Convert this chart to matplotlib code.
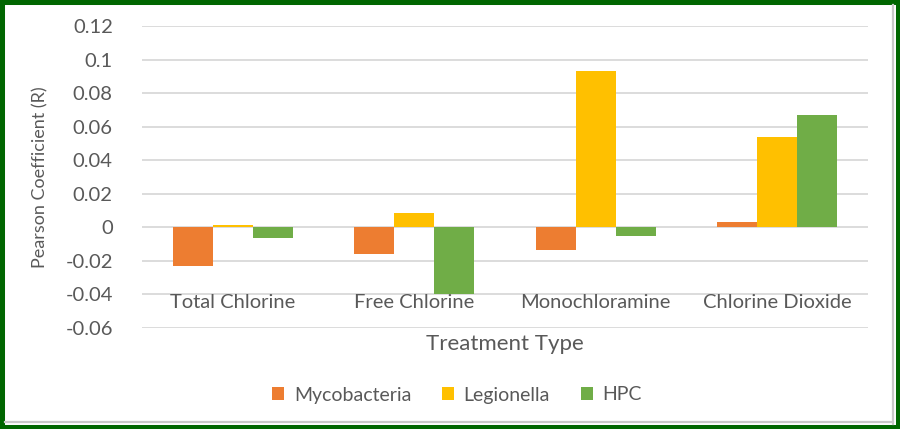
import numpy as np
import matplotlib
matplotlib.use("Agg")
import matplotlib.pyplot as plt
from matplotlib.patches import Rectangle, Patch
from matplotlib.lines import Line2D

# Chart data
categories = ["Total Chlorine", "Free Chlorine", "Monochloramine", "Chlorine Dioxide"]
series_names = ["Mycobacteria", "Legionella", "HPC"]
mycobacteria = [-0.023, -0.0159, -0.0135, 0.003]
legionella = [0.0015, 0.0083, 0.0934, 0.0536]
hpc = [-0.0064, -0.040, -0.0052, 0.0667]
y_ticks = [-0.06, -0.04, -0.02, 0, 0.02, 0.04, 0.06, 0.08, 0.1, 0.12]
y_tick_labels = ["-0.06", "-0.04", "-0.02", "0", "0.02", "0.04", "0.06", "0.08", "0.1", "0.12"]

colors = ["#ED7D31", "#FFC000", "#70AD47"]
text_color = "#595959"
grid_color = "#D9D9D9"

plt.rcParams["font.family"] = ["Lato", "DejaVu Sans"]

fig = plt.figure(figsize=(9, 4.29), dpi=100)
ax = fig.add_axes([0.1578, 0.2354, 0.8066, 0.704])

x = np.arange(len(categories))
bar_width = 0.22
for i, (values, color) in enumerate(zip([mycobacteria, legionella, hpc], colors)):
    ax.bar(x + (i - 1) * bar_width, values, width=bar_width, color=color, zorder=3)

ax.set_xlim(-0.5, len(categories) - 0.5)
ax.set_ylim(-0.06, 0.12)
ax.set_yticks(y_ticks)
ax.set_yticklabels(y_tick_labels)
ax.yaxis.grid(True, color=grid_color, linewidth=1.3, zorder=0)
ax.tick_params(axis="y", length=0, pad=21, labelsize=14.5, labelcolor=text_color)
ax.set_xticks([])
for spine in ax.spines.values():
    spine.set_visible(False)

# Category labels sit just below the -0.04 gridline
for xi, cat in zip(x, categories):
    ax.text(xi, -0.0447, cat, ha="center", va="center", fontsize=14.5, color=text_color)

ax.set_ylabel("Pearson Coefficient (R)", fontsize=13, color=text_color, labelpad=12)
fig.text(0.561, 1 - 344 / 429, "Treatment Type", ha="center", va="center",
         fontsize=16, color=text_color)

handles = [Patch(facecolor=c, edgecolor="none") for c in colors]
fig.legend(handles, series_names, loc="center", bbox_to_anchor=(0.508, 1 - 395 / 429),
           ncol=3, frameon=False, fontsize=14, labelcolor=text_color,
           handlelength=0.6, handleheight=0.6, handletextpad=0.5, columnspacing=1.6)

# Frame: light grey shadow and dark green border
fig.add_artist(Line2D([893 / 900, 893 / 900], [5 / 429, 1 - 5 / 429], transform=fig.transFigure,
                      color="#C8C8C8", linewidth=1.6))
fig.add_artist(Line2D([5 / 900, 893 / 900], [7 / 429, 7 / 429], transform=fig.transFigure,
                      color="#C8C8C8", linewidth=1.6))
fig.add_artist(Rectangle((0, 0), 1, 1, transform=fig.transFigure, fill=False,
                         edgecolor="#006600", linewidth=6.5))

fig.savefig("out.png", dpi=100)
